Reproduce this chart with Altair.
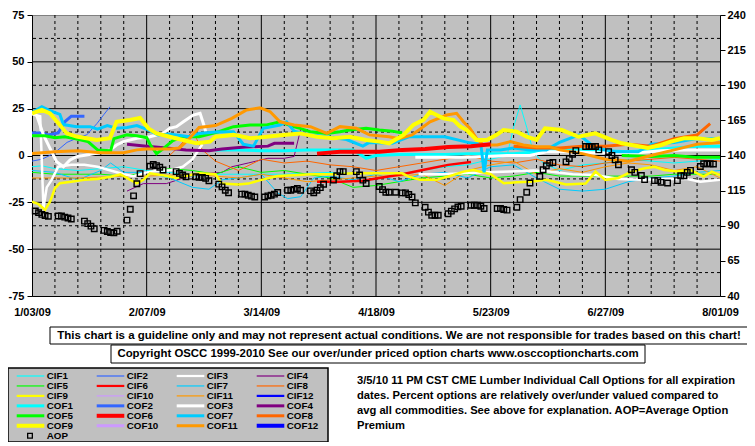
import pandas as pd
import altair as alt

FONT = "Liberation Sans"

# ---------------- axis / grid values ----------------
x_label_days = [0, 35, 70, 105, 140, 175, 210]
x_labels = ["1/03/09", "2/07/09", "3/14/09", "4/18/09", "5/23/09", "6/27/09", "8/01/09"]
left_ticks = [-75, -50, -25, 0, 25, 50, 75]
right_ticks = [40, 65, 90, 115, 140, 165, 190, 215, 240]
h_major = [-50, -25, 0, 25, 50]
h_minor = [-62.5, -37.5, -12.5, 12.5, 37.5, 62.5]
v_major = [35, 70, 105, 140, 175]
v_minor = [7, 14, 21, 28, 42, 49, 56, 63, 77, 84, 91, 98, 112, 119, 126, 133,
           147, 154, 161, 168, 182, 189, 196, 203]

# ---------------- AOP (right axis) ----------------
aop_days = [1, 2, 3, 4, 5, 8, 9, 10, 11, 12, 16, 17, 18, 19, 22, 23, 24, 25, 26,
            29, 30, 31, 32, 33, 36, 37, 38, 39, 40, 44, 45, 46, 47, 50, 51, 52, 53, 54,
            57, 58, 59, 60, 64, 65, 66, 67, 68, 71, 72, 73, 74, 75, 78, 79, 80, 81, 82,
            85, 86, 87, 88, 89, 92, 93, 94, 95, 99, 100, 101, 102, 106, 107, 108, 109, 111,
            113, 114, 115, 116, 117, 120, 121, 122, 123, 124, 127, 128, 129, 130, 131,
            134, 135, 136, 137, 138, 142, 143, 144, 145, 148, 149, 151, 152,
            155, 156, 157, 158, 159, 163, 164, 165, 166, 169, 170, 171, 172, 173,
            176, 177, 178, 179, 183, 184, 186, 187, 190, 191, 192, 194,
            197, 198, 199, 200, 201, 204, 205, 206, 207, 208]
aop_values = [100.5, 99.3, 98.1, 97.3, 96.7, 96.9, 96.9, 96.1, 95.5, 94.8, 93.3, 91.5, 89.7, 87.9,
              86.7, 85.9, 85.2, 84.9, 86.1, 94.0, 101.7, 111.3, 119.9, 127.1,
              132.4, 133.6, 132.8, 131.6, 129.7, 128.5, 127.3, 126.1, 124.9,
              124.9, 124.4, 124.4, 123.7, 122.0, 119.6, 117.7, 115.3, 113.5,
              112.5, 112.5, 111.7, 111.1, 110.5, 110.5, 111.3, 111.7, 112.5, 113.7,
              115.3, 115.3, 115.9, 116.5, 115.3, 114.8, 113.5, 115.3, 117.1, 119.5,
              122.5, 125.6, 128.5, 128.5, 128.5, 126.1, 122.5, 120.1,
              117.9, 115.7, 113.8, 113.8, 113.8, 113.4, 113.4, 112.2, 110.5, 106.3,
              103.2, 99.7, 97.5, 97.5, 97.5, 98.5, 100.4, 102.0, 103.4, 103.9,
              104.6, 104.6, 104.6, 103.9, 102.3, 102.3, 102.3, 101.6, 101.1,
              103.2, 108.6, 113.8, 120.4, 125.1, 129.9, 132.7, 134.6, 135.0,
              135.5, 137.9, 140.9, 143.5, 146.4, 146.4, 146.4, 146.4, 144.0,
              142.8, 140.0, 136.9, 133.4, 129.9, 128.0, 125.8, 122.8,
              122.1, 122.1, 120.9, 120.4, 122.1, 125.6, 125.6, 128.0, 129.4,
              132.2, 134.1, 134.1, 134.1, 133.9]

# ---------------- series (day, percent); None splits a series ----------------
CIF1 = [(0, -6), (3, -5.5), (7, -7), (14, -8), (21, -7), (28, -6), (35, -8), (42, -9), (49, -11),
        (56, -10), (63, -10), (70, -10), (77, -10), (84, -9.5), (91, -9), (98, -9.5), (105, -9),
        (112, -10), (119, -8), (126, -6), (133, -5), (140, -2), (145, 0), (147, 15), (149, 27),
        (151, 15), (153, 2), (156, -4), (161, -8), (168, -5), (175, -4), (182, -2), (189, -3),
        (196, -4), (203, -3), (210, -2)]
CIF2 = [(0, -3), (3, -2), (6.6, 1), (10.7, 7), (14.7, 10), (16.7, 11), (19.8, 17), (22, 22), (23.8, 26)]
CIF3 = [(0, 22), (2.5, 21), (3.5, -28), (4.5, -17), (6, -13), (8, -6), (12, -5), (16, -5), (20, -6),
        (24, -8), (28, -10), (31, -11), (35, -9), (39, -8), (42, -8), (46, -6), (49, -2), (52, 6),
        None,
        (118, -10), (125, -10), (132, -9.5), (139, -9), (146, -8.5), (153, -8), (158, -8.6),
        (165, -10), (172, -10.4), (179, -12.5), (186, -13), (193, -12.5), (200, -12.5),
        (204, -14), (210, -13)]
CIF4 = [(29, -19), (34, -15), (41, -15), (48, -11), (54, -9.5), (58, -9), (61, -6), (66, -4),
        (72, -1.5), (77, -1.5), (80, -0.5), (82, 14)]
CIF5 = [(0, -9), (7, -10), (14, -10), (21, -10), (28, -11), (35, -9), (42, -7), (49, -8), (56, -10),
        (63, -6), (70, -9), (77, -8), (84, -10), (91, -12), (98, -17), (105, -16), (112, -14),
        (119, -12), (126, -11), (133, -10), (140, -12), (147, -11), (154, -9), (161, -11),
        (168, -11), (175, -11), (182, -11), (189, -11), (196, -10), (203, -10), (210, -10)]
CIF6 = [(87, -14), (94, -14), (101, -13.5), (106, -12), (113, -10), (120, -7.5), (127, -5), (134, -3.5)]
CIF7 = [(0, -8), (7, -9), (14, -13), (21, -8), (24, -4), (28, -9), (35, -9), (42, -12), (49, -17),
        (54, -18), (58, -13), (63, -12), (70, -10), (75, -20), (78, -23), (82, -22), (86, -12),
        (91, -11), (98, -13), (105, -10), (112, -14), (119, -10), (126, -9), (133, -12), (140, -6),
        (147, -5), (150, -8), (154, -12), (161, -18), (168, -19), (175, -18), (182, -14),
        (189, -12), (196, -11), (203, -9), (210, -8)]
CIF8 = [(42, 0), (45, 5), (49, 13), (52, 3), (56, -3), (63, -8), (70, -2), (77, -4), (84, -3), (91, -5),
        (98, -6), (105, -8), (112, -6), (119, -4), (126, -2), (133, 0), (140, -3), (147, -4),
        (154, -2), (161, -5), (168, -6), (175, -4), (182, -3), (189, -2), (196, -1), (203, -2), (210, -3)]
CIF9 = [(0, -24.6), (2, -26), (4, -29), (5.5, -24.6), (7, -17.5), (8.5, -14.8), (12, -14), (16, -13),
        (20, -12.5), (24, -11.3), (27, -10), (30, -13), (32, -14.8), (34, -13), (36, -9.5),
        (40, -10.5), (44, -12), (47, -11), (51, -9.5), (56, -10), (58, -15), (63, -15.5), (66, -15),
        (70, -13), (75, -11), (80, -10.5), (85, -10), (91, -10), (98, -9.5), (103, -9.5),
        (113, -9.5), (115, -11.3), (118.5, -13), (123.5, -13), (128.6, -10.4), (131.7, -8.6),
        (134.7, -7.7), (140, -10), (144, -14.8), (148, -14.3), (152, -14), (157, -13),
        (163, -15.5), (169, -15), (172, -8.6), (175, -13), (179, -12), (183, -8.6), (187, -6.8),
        (190, -6), (193, -7.7), (197, -8.6), (201, -7.7), (205, -11.3), (207.5, -8.6), (210, -10.4)]
CIF11 = [(0, -12), (7, -12), (14, -12), (21, -11.5), (28, -11), (35, -11), (42, -10.5), (49, -10),
         (56, -11), (63, -12), (70, -10), (77, -12), (84, -14), (91, -13), (98, -12), (105, -11),
         (112, -11), (119, -10), (126, -16), (133, -8), (140, -5), (147, -3), (154, -10),
         (161, -7), (168, -9), (175, -6), (182, -4), (189, -5), (196, -8), (203, -6), (210, -12)]
COF1 = [(56, 3), (63, 3), (70, 2.5), (77, 2.5), (84, 3), (91, 3), (98, 3), (102, -1.5), (105, 0),
        (112, 0.5), (119, 0.5), (126, 0.5), (133, 1), (140, 1), (147, 1), (154, 2), (161, 3),
        (168, 3), (175, 2.5), (182, 2), (189, 3), (196, 4), (203, 5), (210, 5)]
COF2 = [(0, 12), (3, 12), (5, 11), (8, 12), (10, 18), (12, 21), (16, 21)]
COF3 = [(1.4, 21.6), (3.5, 11), (5.5, 3.8), (7.5, -3.3), (9.6, -6), (11.6, -2.4), (13.6, -0.6),
        (15.7, 0), (19.7, 1.2), (23.8, 2.9), (25.8, 5.6), (27.9, 7.4), (32, 9.2), (36, 10),
        (40, 11.8), (42, 14.5), (44.1, 15.4), (46.2, 18), (49.2, 21.6), (51.3, 22.5), (52.5, 16),
        (53, 13),
        None,
        (117, -1), (124, -1), (131, -1), (138, -0.5), (145, 0), (152, 0), (157, 2), (164, 2),
        (171, 1.5), (178, 1.5), (185, 1.5), (192, 2.5), (199, 3), (206, 3), (210, 3)]
COF4 = [(29, 6), (35, 5), (41, 4), (47, 3), (54, 2.5), (58, 3.5), (65, 4.5), (72, 5), (74, 6.5), (80, 6.5)]
COF5 = [(0, 10.5), (4, 10.5), (7, 9.5), (10, 10), (13, 9), (17, 7.5), (20, 3), (24, 2.5), (25, 9),
        (29, 11), (32, 10.5), (35, 9.5), (36, 6), (38, 1), (40, 3.5), (43, 8), (46, 10), (51, 10),
        (57, 12.7), (61.5, 15.4), (66.6, 16.3), (71.6, 16.3), (75.7, 18), (79.8, 15.4),
        (81.8, 14.5), (84.9, 12.7), (90, 11.8), (94, 12.7), (97, 13.6), (102, 14.5), (106, 13.6),
        (110, 13), (113, 12),
        None,
        (180, 0), (189, -0.5), (196, 0), (203, -1), (210, -1)]
COF6 = [(87, 1), (94, 2), (101, 2), (106, 2), (113, 3), (120, 3.5), (127, 4.5), (134, 5), (140, 6)]
COF7 = [(0, 23), (3, 26), (5.5, 24), (8.5, 22), (9.6, 16.5), (13.6, 15.4), (17.7, 15.4), (20, 14),
        (23, 16), (25.8, 14.5), (29, 15), (32, 16), (35, 14), (38.5, 11), (42, 11.5), (48, 10),
        (51, 11.8), (56, 12.5), (61.5, 12.7), (64.5, 6), (67.6, 5), (70.6, 14.5), (75.7, 16.3),
        (77.7, 18), (80, 13), (84.9, 11), (90, 10), (96, 8.5), (101, 5), (103, 7), (110, 6.5),
        (115, 10), (120, 10), (126, 10), (133, 7), (137, 6), (138, -9), (139, 3), (143, 3),
        (147, 4), (152, 3), (157, 3), (161, 7), (167, 11), (172, 4), (178, 2), (185, 2),
        (189, 6), (196, 7), (203, 9), (210, 9)]
COF8 = [(147, 5), (154, 4), (161, 4), (168, 5), (175, 5), (182, 6), (189, 5), (196, 9), (203, 11), (207, 17)]
COF9 = [(0, 22.5), (3, 24.3), (5.5, 22.5), (8.5, 16.3), (10.6, 11.8), (13.6, 10.1), (19.7, 8.3),
        (23.8, 9.2), (25.8, 18), (29.9, 19), (33, 20), (35.5, 14.5), (38, 11.8), (42, 10),
        (46, 8.3), (50.2, 6.5), (54.3, 7.4), (56, 10), (61.5, 11), (66.6, 9.2), (71.6, 10),
        (76.7, 11), (81.8, 11.8), (87, 10), (92, 9.2), (97, 10), (102, 8.3), (106, 7.4),
        (109, 6.5), (113.4, 11), (116.4, 16.3), (119.5, 19), (121.5, 23.4), (123.5, 21.6),
        (125.6, 19.8), (128.6, 19), (130.7, 15.4), (132.7, 13.6), (135.7, 8.3), (138.8, 8.3),
        (141.8, 11), (143.9, 13.6), (148, 12.7), (151, 10), (154, 8.3), (156.6, 14.5),
        (161.7, 13.6), (166.8, 10), (171.9, 11.8), (176.9, 8.3), (180, 6.5), (183, 5.6), (188, 4),
        (192, 5.6), (195, 7.4), (199, 9.2), (203, 9.2), (207.5, 8.3), (210, 9.2)]
COF11 = [(0, 1), (7, 2), (14, 2.5), (21, 1.5), (28, 1.5), (32, 3), (35, 3.5), (42, 3.5), (45, 4),
         (48, 9), (51, 15), (56, 16), (61, 19.8), (65.5, 24.3), (69.6, 25.5), (72.7, 23.4),
         (75.7, 18), (80, 16.3), (85, 15.4), (90, 11.8), (94, 15.4), (99, 14.5), (103, 11),
         (109, 10), (112, 9), (116, 11), (121.5, 18), (126.6, 21.6), (129.6, 22.5), (131.7, 18),
         (133.7, 14.5), (135.7, 9), (137.8, 5.6), (142, 5.6), (146, 7.4), (150, 5.6), (154, 4.7),
         (158, 4.7), (161, 3), (168, 1), (175, -2), (182, -3), (189, 0), (196, 3), (203, 6), (210, 7)]

# legend order and styles: (name, colour, legend width, data)
legend_entries = [
    ("CIF1", "#00FFFF", 1.2, CIF1), ("CIF2", "#3366FF", 1.2, CIF2), ("CIF3", "#FFFFFF", 2.2, CIF3),
    ("CIF4", "#800080", 1.2, CIF4), ("CIF5", "#00FF00", 1.2, CIF5), ("CIF6", "#FF0000", 2.2, CIF6),
    ("CIF7", "#00CCFF", 1.2, CIF7), ("CIF8", "#FF6600", 1.2, CIF8), ("CIF9", "#FFFF00", 2.2, CIF9),
    ("CIF10", "#CC99FF", 1.2, None), ("CIF11", "#FF9900", 1.2, CIF11), ("CIF12", "#0000FF", 2.2, None),
    ("COF1", "#00FFFF", 3, COF1), ("COF2", "#3366FF", 3, COF2), ("COF3", "#FFFFFF", 3, COF3),
    ("COF4", "#800080", 3, COF4), ("COF5", "#00FF00", 3, COF5), ("COF6", "#FF0000", 4, COF6),
    ("COF7", "#00CCFF", 3, COF7), ("COF8", "#FF6600", 3, COF8), ("COF9", "#FFFF00", 4, COF9),
    ("COF10", "#CC99FF", 3, None), ("COF11", "#FF9900", 3, COF11), ("COF12", "#0000FF", 4, None),
]

disclaimer = "This chart is a guideline only and may not represent actual conditions. We are not responsible for trades based on this chart!"
copyright_text = "Copyright OSCC 1999-2010 See our over/under priced option charts www.osccoptioncharts.com"
note_lines = ["3/5/10 11 PM CST CME Lumber Individual Call Options for all expiration",
              "dates. Percent options are relatively over/under valued compared to",
              "avg all commodities. See above for explanation. AOP=Average Option",
              "Premium"]

# ---------------- chart ----------------
xs = alt.Scale(domain=[0, 210], nice=False, zero=False)
ys = alt.Scale(domain=[-75, 75], nice=False, zero=False)
label_arr = "[" + ",".join("'%s'" % s for s in x_labels) + "]"
xaxis = alt.Axis(values=x_label_days, title=None, grid=False, ticks=False, tickSize=0,
                 labelExpr=label_arr + "[round(datum.value/35)]", labelFlush=False,
                 labelFont=FONT, labelFontWeight="bold", labelFontSize=11, labelColor="black",
                 labelPadding=10, domainColor="black", domainWidth=1)
yaxis = alt.Axis(values=left_ticks, title=None, grid=False, tickSize=5, tickColor="black",
                 labelExpr="'' + datum.value",
                 labelFont=FONT, labelFontWeight="bold", labelFontSize=11, labelColor="black",
                 labelPadding=3, domainColor="black", orient="left")
raxis = alt.Axis(values=right_ticks, title=None, grid=False, tickSize=5, tickColor="black",
                 labelFont=FONT, labelFontWeight="bold", labelFontSize=11, labelColor="black",
                 labelPadding=2, domainColor="black", orient="right")
X = alt.X("day:Q", scale=xs, axis=xaxis)
Y = alt.Y("value:Q", scale=ys, axis=yaxis)

grid_layers = [
    alt.Chart(pd.DataFrame({"value": h_minor})).mark_rule(color="black", strokeDash=[3, 3], strokeWidth=1).encode(y=Y),
    alt.Chart(pd.DataFrame({"day": v_minor})).mark_rule(color="black", strokeDash=[3, 3], strokeWidth=1).encode(x=X),
    alt.Chart(pd.DataFrame({"value": h_major})).mark_rule(color="black", strokeWidth=1).encode(y=Y),
    alt.Chart(pd.DataFrame({"day": v_major})).mark_rule(color="black", strokeWidth=1).encode(x=X),
]


def to_df(points):
    rows, s = [], 0
    for p in points:
        if p is None:
            s += 1
            continue
        rows.append({"day": p[0], "value": p[1], "seg": s})
    return pd.DataFrame(rows)


plot_width = {1.2: 1, 2.2: 2.5, 3: 3, 4: 4}
order = ["CIF1", "CIF2", "CIF4", "CIF5", "CIF7", "CIF8", "CIF11", "CIF3", "CIF6", "CIF9",
         "COF1", "COF2", "COF3", "COF4", "COF5", "COF7", "COF8", "COF11", "COF6", "COF9"]
style = {n: (c, w, d) for n, c, w, d in legend_entries}
line_layers = []
for n in order:
    c, w, d = style[n]
    line_layers.append(
        alt.Chart(to_df(d)).mark_line(color=c, strokeWidth=plot_width[w], clip=True)
        .encode(x=X, y=Y, detail="seg:N"))

inner = alt.layer(*grid_layers, *line_layers)

aop_layer = alt.Chart(pd.DataFrame({"day": aop_days, "aop": aop_values})).mark_point(
    shape="square", filled=False, color="black", size=30, strokeWidth=1.4, opacity=1
).encode(x=X, y=alt.Y("aop:Q", scale=alt.Scale(domain=[40, 240], nice=False, zero=False), axis=raxis))

one = pd.DataFrame({"a": [0]})


def box(x0, x1, y0, y1, fill, sw=1.0):
    return alt.Chart(one).mark_rect(fill=fill, stroke="black", strokeWidth=sw).encode(
        x=alt.value(x0), x2=alt.value(x1), y=alt.value(y0), y2=alt.value(y1))


def label(txt, x, y, size=11, align="left"):
    return alt.Chart(pd.DataFrame({"t": [txt]})).mark_text(
        font=FONT, fontWeight="bold", fontSize=size, align=align, baseline="middle", color="black"
    ).encode(x=alt.value(x), y=alt.value(y), text="t:N")


decor = [
    box(18, 716, 312, 329, "white"),
    label(disclaimer, 367, 320.5, 11.5, "center"),
    box(79, 613, 330, 348, "white"),
    label(copyright_text, 346, 339, 11.4, "center"),
    box(-24, 296, 353, 427, "#C0C0C0", 1.5),
]
for i, ln in enumerate(note_lines):
    decor.append(label(ln, 325, 366 + 15 * i, 11.2))

for i, (n, c, w, d) in enumerate(legend_entries):
    r, col = divmod(i, 4)
    yv = 361 + 9.95 * r
    x0 = -15.3 + 80 * col
    decor.append(alt.Chart(one).mark_rule(color=c, strokeWidth=w).encode(
        x=alt.value(x0), x2=alt.value(x0 + 27.6), y=alt.value(yv)))
    decor.append(label(n, x0 + 30, yv, 9.8))
yv = 361 + 9.95 * 6
decor.append(alt.Chart(one).mark_point(shape="square", filled=False, color="black", size=22,
                                       strokeWidth=1.3, opacity=1).encode(x=alt.value(-2), y=alt.value(yv)))
decor.append(label("AOP", 14.7, yv, 9.8))

chart = alt.layer(inner, aop_layer, *decor).resolve_scale(y="independent").properties(
    width=688, height=281,
    padding={"left": 24, "top": 7, "right": 27, "bottom": 146},
    autosize=alt.AutoSizeParams(type="none"),
    background="white",
).configure_view(fill="#C0C0C0", stroke="#808080", strokeWidth=1)

chart.save("out.html", embed_options={"renderer": "svg", "actions": False})
